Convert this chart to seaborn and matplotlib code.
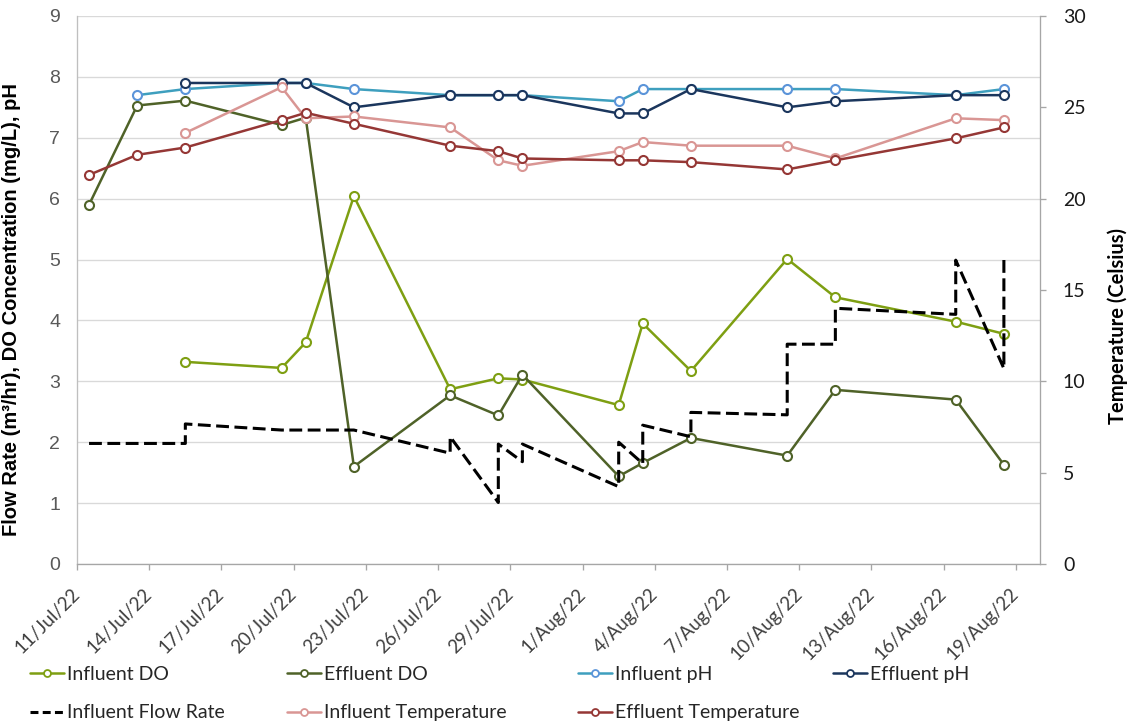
import matplotlib
matplotlib.use("Agg")
import matplotlib.pyplot as plt
import matplotlib.dates as mdates
from matplotlib.lines import Line2D
import pandas as pd
import seaborn as sns

# Sampling dates (samples taken around midday)
sample_dates = ["2022-07-11 12:00", "2022-07-13 12:00", "2022-07-15 12:00", "2022-07-19 12:00",
                "2022-07-20 12:00", "2022-07-22 12:00", "2022-07-26 12:00", "2022-07-28 12:00",
                "2022-07-29 12:00", "2022-08-02 12:00", "2022-08-03 12:00", "2022-08-05 12:00",
                "2022-08-09 12:00", "2022-08-11 12:00", "2022-08-16 12:00", "2022-08-18 12:00"]

nan = float("nan")
influent_do = [nan, nan, 3.32, 3.22, 3.64, 6.04, 2.87, 3.05, 3.03, 2.61, 3.95, 3.17, 5.01, 4.38, 3.98, 3.78]
effluent_do = [5.90, 7.53, 7.61, 7.21, 7.33, 1.60, 2.77, 2.44, 3.11, 1.44, 1.66, 2.07, 1.78, 2.86, 2.70, 1.63]
influent_ph = [nan, 7.70, 7.80, 7.90, 7.90, 7.80, 7.70, 7.70, 7.70, 7.60, 7.80, 7.80, 7.80, 7.80, 7.70, 7.80]
effluent_ph = [nan, nan, 7.90, 7.90, 7.90, 7.50, 7.70, 7.70, 7.70, 7.40, 7.40, 7.80, 7.50, 7.60, 7.70, 7.70]
influent_temp = [nan, nan, 23.6, 26.1, 24.4, 24.5, 23.9, 22.1, 21.8, 22.6, 23.1, 22.9, 22.9, 22.2, 24.4, 24.3]
effluent_temp = [21.3, 22.4, 22.8, 24.3, 24.7, 24.1, 22.9, 22.6, 22.2, 22.1, 22.1, 22.0, 21.6, 22.1, 23.3, 23.9]

# Flow rate log: readings before and after each adjustment on the same day
flow_dates = ["2022-07-11 12:00", "2022-07-15 12:00", "2022-07-15 12:00", "2022-07-19 12:00",
              "2022-07-22 12:00", "2022-07-26 12:00", "2022-07-26 12:00", "2022-07-28 12:00",
              "2022-07-28 12:00", "2022-07-29 12:00", "2022-07-29 12:00", "2022-08-02 12:00",
              "2022-08-02 12:00", "2022-08-03 12:00", "2022-08-03 12:00", "2022-08-05 12:00",
              "2022-08-05 12:00", "2022-08-09 12:00", "2022-08-09 12:00", "2022-08-11 12:00",
              "2022-08-11 12:00", "2022-08-16 12:00", "2022-08-16 12:00", "2022-08-18 12:00",
              "2022-08-18 12:00"]
flow_rate = [1.98, 1.98, 2.30, 2.20, 2.20, 1.82, 2.09, 1.01, 1.97, 1.68, 1.97, 1.27, 2.00,
             1.65, 2.28, 2.09, 2.49, 2.45, 3.61, 3.61, 4.20, 4.10, 4.99, 3.21, 5.05]

x_start, x_end = "2022-07-11", "2022-08-20"
tick_dates = pd.date_range("2022-07-11", "2022-08-19", freq="3D")

C_INF_DO = "#7E9F12"
C_EFF_DO = "#4F6228"
C_INF_PH_LINE = "#3E9FBE"
C_INF_PH_MARK = "#5B94D9"
C_EFF_PH = "#1B365D"
C_INF_T = "#D99694"
C_EFF_T = "#953735"

sns.set_style("white")
plt.rcParams["font.family"] = ["Lato", "DejaVu Sans"]

fig = plt.figure(figsize=(11.27, 7.26), dpi=100)
W, H = 1127, 726
ax = fig.add_axes([77 / W, 1 - 564 / H, (1040 - 77) / W, (564 - 16) / H])
ax2 = ax.twinx()

dates = pd.to_datetime(pd.Series(sample_dates))

def series(values):
    df = pd.DataFrame({"date": dates, "value": values})
    return df.dropna()

LW = 1.8
MS = 6.5
MEW = 1.5

def draw(axis, values, line_color, mark_color, z):
    sns.lineplot(data=series(values), x="date", y="value", ax=axis, color=line_color,
                 linewidth=LW, marker="o", markersize=MS, markerfacecolor="white",
                 markeredgecolor=mark_color, markeredgewidth=MEW,
                 estimator=None, sort=False, legend=False, zorder=z)

draw(ax, influent_do, C_INF_DO, C_INF_DO, 3)
draw(ax, effluent_do, C_EFF_DO, C_EFF_DO, 4)
draw(ax, influent_ph, C_INF_PH_LINE, C_INF_PH_MARK, 5)
draw(ax, effluent_ph, C_EFF_PH, C_EFF_PH, 6)

flow_df = pd.DataFrame({"date": pd.to_datetime(pd.Series(flow_dates)), "value": flow_rate})
sns.lineplot(data=flow_df, x="date", y="value", ax=ax, color="black", linewidth=2.2,
             dashes=False, estimator=None, sort=False, legend=False, zorder=7)
ax.get_lines()[-1].set_dashes((4.2, 1.8))

draw(ax2, influent_temp, C_INF_T, C_INF_T, 3)
draw(ax2, effluent_temp, C_EFF_T, C_EFF_T, 4)

# Axes limits and ticks
ax.set_xlim(pd.Timestamp(x_start), pd.Timestamp(x_end))
ax.set_ylim(0, 9)
ax.set_yticks(range(0, 10))
ax2.set_ylim(0, 30)
ax2.set_yticks(range(0, 31, 5))
ax.set_xticks(tick_dates)
ax.xaxis.set_major_formatter(mdates.DateFormatter("%-d/%b/%y"))

ax.grid(axis="y", color="#D9D9D9", linewidth=0.95)
ax.grid(axis="x", visible=False)
ax2.grid(False)
ax.set_axisbelow(True)

for s in ("top", "right"):
    ax.spines[s].set_visible(False)
ax.spines["left"].set_color("#BFBFBF")
ax.spines["bottom"].set_color("#A6A6A6")
for s in ("top", "left", "bottom"):
    ax2.spines[s].set_visible(False)
ax2.spines["right"].set_color("#A6A6A6")
for sp in list(ax.spines.values()) + list(ax2.spines.values()):
    sp.set_linewidth(0.95)

ax.tick_params(axis="y", left=False, length=0, pad=12, labelsize=14, labelcolor="#595959")
for lbl in ax.get_yticklabels():
    lbl.set_family("Liberation Sans")
ax.tick_params(axis="x", bottom=True, direction="out", length=4.5, width=0.95,
               color="#A6A6A6", pad=15, labelsize=13.5, labelcolor="#404040")
for lbl in ax.get_xticklabels():
    lbl.set_rotation(45)
    lbl.set_ha("right")
    lbl.set_va("center")
    lbl.set_rotation_mode("anchor")
ax2.tick_params(axis="y", right=True, direction="out", length=4.5, width=0.95,
                color="#A6A6A6", pad=12, labelsize=14, labelcolor="#1A1A1A")

ax.set_xlabel("")
ax.set_ylabel("Flow Rate (m³/hr), DO Concentration (mg/L), pH", fontsize=14.5,
              fontweight="bold", family="Liberation Sans", color="black")
ax.yaxis.set_label_coords((21 - 77) / 963, (564 - 310) / 548)
ax2.set_ylabel("Temperature (Celsius)", fontsize=14.5, fontweight="bold", color="black",
               rotation=90)
ax2.yaxis.set_label_coords((1107 - 77) / 963, (564 - 326) / 548)

# Legend laid out in four columns below the chart
def handle(line_color, mark_color, dashed=False):
    if dashed:
        h = Line2D([], [], color="black", linewidth=2.2)
        h.set_dashes((2.6, 1.4))
        return h
    return Line2D([], [], color=line_color, linewidth=LW, marker="o", markersize=5,
                  markerfacecolor="white", markeredgecolor=mark_color, markeredgewidth=1.3)

columns = [
    ([handle(C_INF_DO, C_INF_DO), handle("k", "k", dashed=True)], ["Influent DO", "Influent Flow Rate"], 30),
    ([handle(C_EFF_DO, C_EFF_DO), handle(C_INF_T, C_INF_T)], ["Effluent DO", "Influent Temperature"], 287),
    ([handle(C_INF_PH_LINE, C_INF_PH_MARK), handle(C_EFF_T, C_EFF_T)], ["Influent pH", "Effluent Temperature"], 578),
    ([handle(C_EFF_PH, C_EFF_PH)], ["Effluent pH"], 833),
]
for handles, labels, xpx in columns:
    leg = fig.legend(handles, labels, loc="upper left", bbox_to_anchor=(xpx / W, 1 - 666 / H),
                     frameon=False, fontsize=14, borderpad=0, borderaxespad=0,
                     handlelength=1.75, handletextpad=0.15, labelspacing=1.1)

fig.savefig("out.png", dpi=100)
